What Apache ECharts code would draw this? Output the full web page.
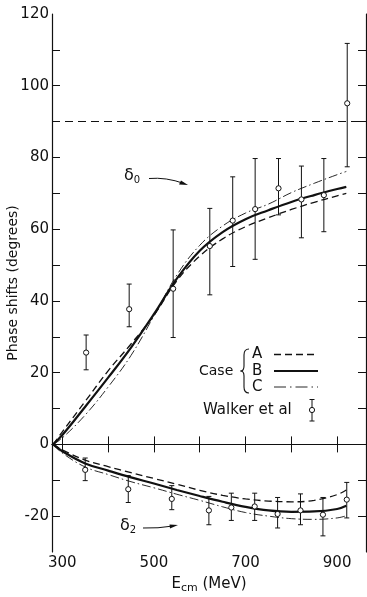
<!DOCTYPE html>
<html>
<head>
<meta charset="utf-8">
<script src="https://cdn.jsdelivr.net/npm/echarts@6/dist/echarts.min.js"></script>
<style>
  html, body { margin: 0; padding: 0; background: #fff; }
  #main { width: 367px; height: 597px; }
</style>
</head>
<body>
<div id="main"></div>
<script>
// energies for the model curves (MeV)
var energy = [280, 300, 350, 400, 450, 500, 550, 600, 650, 700, 750, 800, 850, 900, 920];

// delta_0, cases A (dashed), B (solid), C (dash-dot)
var d0A = [0, 3.5, 12.0, 20.5, 28.0, 36.0, 45.6, 52.5, 57.3, 60.7, 63.2, 65.5, 67.5, 69.3, 70.0];
var d0B = [0, 2.6, 10.5, 18.6, 27.0, 36.3, 46.2, 54.0, 59.2, 62.8, 65.3, 67.6, 69.5, 71.2, 71.8];
var d0C = [0, 1.8, 8.2, 16.0, 24.8, 35.8, 47.2, 55.5, 60.9, 64.5, 67.0, 70.2, 72.8, 75.2, 76.1];

// delta_2
var d2A = [0, -1.5, -4.4, -6.2, -7.9, -9.5, -11.1, -12.8, -14.2, -15.2, -15.8, -16.0, -15.6, -14.0, -12.7];
var d2B = [0, -1.9, -5.3, -7.3, -9.2, -10.9, -12.7, -14.4, -16.0, -17.4, -18.4, -18.8, -18.7, -18.0, -17.1];
var d2C = [0, -2.4, -6.3, -8.4, -10.4, -12.1, -13.9, -15.6, -17.4, -19.0, -20.0, -20.7, -20.9, -20.5, -19.9];

// Walker et al points: [E, value, low, high]
var walkerD0 = [
  [352, 25.6, 20.8, 30.5],
  [446, 37.7, 32.8, 44.7],
  [542, 43.4, 29.8, 59.8],
  [622, 55.3, 41.7, 65.8],
  [672, 62.4, 49.6, 74.6],
  [721, 65.6, 51.6, 79.7],
  [772, 71.4, 64.0, 79.7],
  [822, 68.3, 57.6, 77.6],
  [871, 69.5, 59.3, 79.7],
  [922, 95.1, 77.4, 111.8]
];
var walkerD2 = [
  [350, -7.1, -10.1, -3.8],
  [444, -12.5, -16.2, -8.7],
  [539, -15.2, -18.2, -11.5],
  [620, -18.4, -22.4, -14.5],
  [669, -17.6, -21.2, -13.6],
  [720, -17.3, -21.2, -13.6],
  [770, -19.4, -23.3, -14.8],
  [820, -18.4, -22.4, -13.8],
  [869, -19.6, -25.5, -14.8],
  [921, -15.4, -20.5, -10.6]
];

var xLabels = [300, 500, 700, 900];
var xTicks = [300, 400, 500, 600, 700, 800, 900];
var yLabels = [-20, 0, 20, 40, 60, 80, 100, 120];
var yTicks = [-20, -10, 0, 10, 20, 30, 40, 50, 60, 70, 80, 90, 100, 110];

var ink = '#111';
var font = 'DejaVu Sans';

function pairs(ys) {
  return energy.map(function (e, i) { return [e, ys[i]]; });
}

function curve(name, ys, kind) {
  var style = { color: ink, width: 1.2, type: 'solid' };
  if (kind === 'A') { style.type = [7, 4]; style.width = 1.3; }
  if (kind === 'B') { style.width = 2.2; }
  if (kind === 'C') { style.type = [9, 3, 1.5, 3]; style.width = 0.9; }
  return {
    name: name,
    type: 'line',
    data: pairs(ys),
    smooth: 0.4,
    symbol: 'none',
    silent: true,
    lineStyle: style,
    z: 3
  };
}

function errorBars(name, pts) {
  return {
    name: name,
    type: 'custom',
    data: pts,
    silent: true,
    z: 5,
    renderItem: function (params, api) {
      var x = api.value(0);
      var p = api.coord([x, api.value(1)]);
      var lo = api.coord([x, api.value(2)]);
      var hi = api.coord([x, api.value(3)]);
      var cap = 2.5;
      var ls = { stroke: ink, lineWidth: 1 };
      return {
        type: 'group',
        children: [
          { type: 'line', shape: { x1: p[0], y1: hi[1], x2: p[0], y2: lo[1] }, style: ls },
          { type: 'line', shape: { x1: p[0] - cap, y1: hi[1], x2: p[0] + cap, y2: hi[1] }, style: ls },
          { type: 'line', shape: { x1: p[0] - cap, y1: lo[1], x2: p[0] + cap, y2: lo[1] }, style: ls },
          { type: 'circle', shape: { cx: p[0], cy: p[1], r: 2.6 }, style: { fill: '#fff', stroke: ink, lineWidth: 1 } }
        ]
      };
    }
  };
}

function txt(x, y, s, size) {
  return {
    type: 'text', x: x, y: y,
    style: {
      text: s, fill: ink, font: size + 'px ' + font, verticalAlign: 'middle',
      rich: { s: { fontSize: 10, fontFamily: font, fill: ink, padding: [9, 0, 0, 0] } }
    }
  };
}

function seg(x1, y1, x2, y2, w, dash) {
  return { type: 'line', shape: { x1: x1, y1: y1, x2: x2, y2: y2 }, style: { stroke: ink, lineWidth: w || 1, lineDash: dash || null } };
}

function quad(x1, y1, cx, cy, x2, y2) {
  return { type: 'bezierCurve', shape: { x1: x1, y1: y1, cpx1: cx, cpy1: cy, x2: x2, y2: y2 }, style: { stroke: ink, lineWidth: 1.1, fill: null } };
}

var chart = echarts.init(document.getElementById('main'), null, { renderer: 'canvas' });

var axisLine = { show: true, lineStyle: { color: ink, width: 1.2 } };

var option = {
  backgroundColor: '#fff',
  animation: false,
  textStyle: { fontFamily: font, color: ink },
  grid: { left: 52, right: 1, top: 14, bottom: 45, containLabel: false, outerBoundsMode: 'none' },
  xAxis: [
    {
      type: 'value', min: 277.5, max: 963,
      name: 'E{s|cm} (MeV)',
      nameLocation: 'middle', nameGap: 22, nameMoveOverlap: false,
      nameTextStyle: {
        fontFamily: font, fontSize: 15, color: ink,
        rich: { s: { fontFamily: font, fontSize: 11, color: ink, padding: [9, 0, 0, 0] } }
      },
      axisLine: axisLine,
      axisTick: { inside: true, length: 8, customValues: xTicks, lineStyle: { color: ink } },
      axisLabel: { customValues: xLabels, fontFamily: font, fontSize: 15, color: ink, margin: 4 },
      splitLine: { show: false }
    },
    {
      type: 'value', min: 277.5, max: 963, position: 'top',
      axisLine: axisLine,
      axisTick: { inside: true, length: 8, customValues: xTicks, lineStyle: { color: ink } },
      axisLabel: { show: false },
      splitLine: { show: false }
    }
  ],
  yAxis: [
    {
      type: 'value', min: -30, max: 120,
      name: 'Phase shifts (degrees)',
      nameLocation: 'middle', nameGap: 32, nameRotate: 90, nameMoveOverlap: false,
      nameTextStyle: { fontFamily: font, fontSize: 14, color: ink },
      axisLine: axisLine,
      axisTick: { inside: true, length: 8, customValues: yTicks, lineStyle: { color: ink } },
      axisLabel: { customValues: yLabels, fontFamily: font, fontSize: 15, color: ink, margin: 3 },
      splitLine: { show: false }
    },
    {
      type: 'value', min: -30, max: 120, position: 'right',
      axisLine: axisLine,
      axisTick: { inside: true, length: 8, customValues: yTicks, lineStyle: { color: ink } },
      axisLabel: { show: false },
      splitLine: { show: false }
    }
  ],
  series: [
    {
      name: 'refs',
      type: 'line',
      data: [],
      silent: true,
      markLine: {
        silent: true,
        symbol: 'none',
        label: { show: false },
        data: [
          { yAxis: 0, lineStyle: { color: ink, width: 1, type: 'solid' } },
          { yAxis: 90, lineStyle: { color: ink, width: 1.1, type: [8, 5] } }
        ]
      }
    },
    curve('d0 A', d0A, 'A'),
    curve('d0 B', d0B, 'B'),
    curve('d0 C', d0C, 'C'),
    curve('d2 A', d2A, 'A'),
    curve('d2 B', d2B, 'B'),
    curve('d2 C', d2C, 'C'),
    errorBars('Walker d0', walkerD0),
    errorBars('Walker d2', walkerD2)
  ],
  graphic: [
    // delta_0 label and arrow
    txt(124, 176, 'δ{s|0}', 16),
    { type: 'bezierCurve', shape: { x1: 149, y1: 178.5, cpx1: 166, cpy1: 177, x2: 184, y2: 183.5 }, style: { stroke: ink, lineWidth: 1, fill: null } },
    { type: 'polygon', shape: { points: [[188, 185], [179, 184.5], [181, 180.5]] }, style: { fill: ink } },
    // delta_2 label and arrow
    txt(120, 526, 'δ{s|2}', 16),
    { type: 'bezierCurve', shape: { x1: 143, y1: 528, cpx1: 158, cpy1: 528.5, x2: 173, y2: 526 }, style: { stroke: ink, lineWidth: 1, fill: null } },
    { type: 'polygon', shape: { points: [[178, 525], [170, 528.5], [169.5, 524.5]] }, style: { fill: ink } },
    // legend
    txt(199, 371, 'Case', 14),
    quad(249, 349, 244, 349, 244, 355),
    seg(244, 355, 244, 366, 1.1),
    quad(244, 366, 244, 371, 240.5, 371),
    quad(240.5, 371, 244, 371, 244, 376),
    seg(244, 376, 244, 387, 1.1),
    quad(244, 387, 244, 393, 249, 393),
    txt(252, 354, 'A', 15),
    txt(252, 371, 'B', 15),
    txt(252, 387, 'C', 15),
    seg(274, 354.5, 318, 354.5, 1.3, [7, 4]),
    seg(274, 371, 318, 371, 2.2),
    seg(274, 387, 318, 387, 0.9, [12, 4, 1.5, 4]),
    txt(203, 410, 'Walker et al', 15),
    seg(312, 399.5, 312, 421, 1),
    seg(309.5, 399.5, 314.5, 399.5, 1),
    seg(309.5, 421, 314.5, 421, 1),
    { type: 'circle', shape: { cx: 312, cy: 410, r: 2.6 }, style: { fill: '#fff', stroke: ink, lineWidth: 1 } }
  ]
};

chart.setOption(option);
</script>
</body>
</html>
